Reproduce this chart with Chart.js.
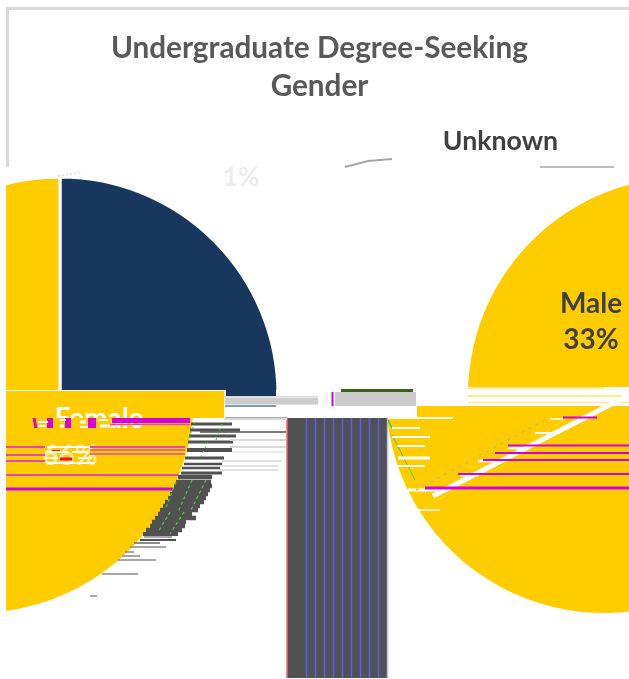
<!DOCTYPE html>
<html><head><meta charset="utf-8">
<script src="https://cdn.jsdelivr.net/npm/chart.js@4"></script>
<style>
html,body{margin:0;padding:0;background:#fff;width:629px;height:679px;overflow:hidden}
#stage{position:relative;width:629px;height:679px;overflow:hidden;background:#fff}
#frame{position:absolute;left:6px;top:7px;width:640px;height:160px;border-left:3px solid #d9d9d9;border-top:3px solid #d9d9d9;box-sizing:border-box}
.band{position:absolute;overflow:hidden}
.band canvas{position:absolute}
#overlay{position:absolute;left:0;top:0}
</style></head><body><div id="stage"><div id="frame"></div></div>
<script>
// ---- chart data ----
const titleLines = ['Undergraduate Degree-Seeking', 'Gender'];
const categories = ['Female', 'Male', 'Unknown'];
const shares = [66, 33, 1];
const quadrantLabels = ['Navy slice', 'Gold slice'];
const quadrantValues = [25, 75];
const NAVY = '#17375e', GOLD = '#ffcc00', INK = '#595959', DARK = '#404040';

const pieLayers = [
  {band:[6,167,300,223], cx:59.5,  cy:395, values:quadrantValues, labels:quadrantLabels, colors:[NAVY,GOLD], border:3},
  {band:[400,167,229,220], cx:686, cy:395, values:shares, labels:categories, colors:[GOLD,GOLD,GOLD], border:0},
  {band:[6,418,290,261], cx:-24, cy:395, values:shares, labels:categories, colors:[GOLD,GOLD,GOLD], border:0},
  {band:[380,418,249,261], cx:604, cy:395, values:shares, labels:categories, colors:[GOLD,GOLD,GOLD], border:0}
];
const R = 218, SIDE = 444;
const stage = document.getElementById('stage');
const common = {responsive:false, animation:false, events:[], layout:{padding:0},
  plugins:{legend:{display:false}, tooltip:{enabled:false}, title:{display:false}}};
pieLayers.forEach(p=>{
  const d = document.createElement('div'); d.className='band';
  const [l,t,w,h] = p.band;
  d.style.cssText = `left:${l}px;top:${t}px;width:${w}px;height:${h}px`;
  const c = document.createElement('canvas'); c.width=SIDE; c.height=SIDE;
  c.style.left=(p.cx-SIDE/2-l)+'px'; c.style.top=(p.cy-SIDE/2-t)+'px';
  d.appendChild(c); stage.appendChild(d);
  new Chart(c,{type:'pie',data:{labels:p.labels,datasets:[{data:p.values,backgroundColor:p.colors,
    borderColor:'#fff',borderWidth:p.border,hoverOffset:0}]},
    options:{...common,radius:R}});
});

// ---- scan-line damage, on a scale of page pixels ----
const styles = {
  block:{c:GOLD}, white:{c:'#fff'}, grey:{c:'#cccccc'}, slate:{c:'#515151'}, hair:{c:'#8a8a8a'}, pale:{c:'#d9d9d9'},
  navy:{c:NAVY}, olive:{c:'#3f5f1f'}, magenta:{c:'#d400e0'}, pink:{c:'#e24ab0'}, blue:{c:'#5a5aff'}, red:{c:'#ee6a6a'}, sky:{c:'#b8b8ff'},
  leader:{c:'#a6a6a6'}, cream:{c:'#ffe98a'}, green:{c:'#4fc83c'}, hot:{c:'#f01030'}, dust:{c:'#cdbb70'}
};
// style, x1, y1, x2, y2, thickness, dash
const segments = [
 // label fragments
 ['white',38,422,48,422,2],['white',38,426,46,426,2],['white',60,420,66,420,2],['white',60,426,64,426,3],['white',80,422,86,422,3],['white',80,427,88,427,2],
 ['white',98,420,108,420,2],['white',100,426,110,426,3],
 ['white',47,447,90,447,2],['white',45,452,68,452,2],['white',72,452,88,452,2],['white',46,458,58,458,2],['white',78,458,92,458,2],['white',46,463,95,463,2],
 ['hot',52,451,60,451,2],['hot',60,459,72,459,3],['hot',66,463,82,463,2],
 // right pie streaks
 ['magenta',425,488,629,488,3],['magenta',458,474,629,474,2],['magenta',483,460,629,460,2],
 ['magenta',495,453,629,453,2],['magenta',508,445.5,629,445.5,2],['magenta',563,417.5,597,417.5,2],
 ['white',433,496,629,395,5],['dust',416,490,545,420,1.5,[3,5]],
 ['white',460,475,478,475,3],['white',478,461,500,461,2.5],['white',508,448,527,448,2.5],
 ['white',535,433,560,433,2],['white',550,419,563,419,1.5],
 ['cream',468,388,605,388,2],['cream',468,396,629,396,2],['cream',468,402.5,629,402.5,1.5],
 ['white',388,418,453,418,2],['white',392,428,420,428,2],['white',392,437,430,437,2],['white',397,446,425,446,2],
 ['white',398,458,430,458,3],['white',398,466,425,466,2],['white',408,490,442,490,3],['white',410,598,445,598,1.5],
 ['white',412,510,440,510,1.5],
 ['green',388,420,392,428,1.5],['green',392,435,415,480,1],
 // left pie streaks
 ['magenta',112,420.5,190,420.5,5],['pink',110,424.5,190,424.5,1.5],
 ['magenta',34,418,36,428,3],['magenta',50,418,50,428,6],['magenta',68,418,68,428,6],['magenta',92,418,92,428,8],
 ['pink',6,447,45,447,2],['pink',90,447,185,447,2],['pink',90,450,185,450,1.5],['pink',90,454,185,454,1.5],
 ['pink',6,455,45,455,2],['pink',6,461,45,461,2],['pink',6,475,178,475,2],['magenta',6,489,172,489,3],
 // green flecks over the dark rows
 ['green',195,422,188,440,1,[2,3]],['green',222,424,216,440,1,[2,3]],['green',208,442,200,458,1,[2,3]],
 ['green',176,482,165,510,1.2,[3,3]],['green',192,480,178,512,1.2,[3,3]],['green',206,480,190,512,1.2,[3,3]],
 ['green',170,512,158,532,1.2,[3,3]],['green',184,512,170,534,1.2,[3,3]],
 // hair rows beside the left pie
 ['pale',225,419,287,419,2],['slate',191,424,232,424,3],['slate',190,430,240,430,3],['slate',200,432,286,432,1.5],
 ['slate',189,436,236,436,3],['pale',230,440,286,440,2],['slate',188,442,233,442,3],['pale',230,447,286,447,2],
 ['slate',187,450,232,450,4],['pale',232,452,284,452,1],['slate',185,458,224,458,3],['pale',222,461,281,461,1.5],
 ['slate',184,464,222,464,2.5],['pale',222,466,279,466,1.5],['slate',182,468,220,468,2.5],['pale',220,470,278,470,1.5],
 ['slate',181,473,222,473,3],['slate',178,477,212,477,4.5],['slate',176,482,211,482,4.5],['slate',174,486,212,486,4.5],
 ['slate',172,490,210,490,4.5],['slate',170,494,208,494,4.5],['slate',168,498,206,498,4.5],['slate',165,502,204,502,4.5],
 ['slate',163,506,200,506,4.5],['slate',160,510,198,510,4.5],['slate',158,514,192,514,4.5],['slate',155,518,196,518,4.5],
 ['slate',152,522,186,522,4.5],['slate',150,526,185,526,4.5],['slate',146,530,182,530,4.5],['slate',143,534,178,534,4],
 ['hair',144,537,172,537,1.5],['slate',140,540,176,540,2],['hair',134,543,160,543,2],['hair',130,547,166,547,1.5],
 ['hair',125,552,134,552,1.5],['hair',122,556,140,556,1.5],['hair',118,560,156,560,1.5],['hair',102,574,138,574,1.5],
 ['hair',90,596,97,596,1.5],
 // grey block with its stripes
 ...[306.5,315.5,324.5,333.5,342.5,351.5,360.5,369.5,378.5].map(x=>['blue',x,418,x,678,1.5]),
 ['red',287,418,287,678,1.5],['sky',387.5,418,387.5,678,1.5],
 ['slate',337,418,337,678,100],
 // fragments around the centre line
 ['navy',226,393,276,393,6],['grey',225,401,318,401,7],['pale',225,396.5,318,396.5,1],['navy',225,406,276,406,1],
 ['olive',341,390.5,413,390.5,3],['grey',335,399,416,399,14],['magenta',332.5,392,332.5,406,2],
 ['hair',225,418,287,418,1.5],
 // leader lines
 ['leader',345,167,368,161,2],['leader',368,161,392,159,2],['leader',540,167,614,167,1.5],
 ['pale',58,176,82,172,1.5,[2,2]],
 // solid gold chunks sit under everything else
 ['block',417,412,629,412,12],['block',6,404.5,224,404.5,27]
];
const textAt = [
 {t:titleLines[0],x:319.5,y:48,font:'bold 29.7px Lato',c:INK},
 {t:titleLines[1],x:319.5,y:86,font:'bold 29.7px Lato',c:INK},
 {t:categories[2],x:500.5,y:141,font:'bold 26.7px Lato',c:DARK},
 {t:categories[1],x:591,y:304,font:'bold 28px Lato',c:DARK},
 {t:shares[1]+'%',x:591,y:340,font:'bold 28px Lato',c:DARK},
 {t:categories[0],x:99,y:419,font:'bold 28px Lato',c:'#fff'},
 {t:shares[2]+'%',x:241,y:178,font:'bold 26px Lato',c:'#ededed'}
];
const datasets = segments.map(s=>({
  data:[{x:s[1],y:s[2]},{x:s[3],y:s[4]}], borderColor:styles[s[0]].c, borderWidth:s[5], borderDash:s[6]||[],
  pointRadius:0, borderCapStyle:'butt', fill:false, tension:0, clip:false
}));
const textPlugin = {id:'texts', afterDatasetDraw(chart,args){
  if(args.index!==datasets.length-2) return;
  const g=chart.ctx; g.save(); g.textAlign='center'; g.textBaseline='middle';
  textAt.forEach(o=>{g.font=o.font; g.fillStyle=o.c; g.fillText(o.t,o.x,o.y);});
  // the Female label is cut off at the scan-line break; its share is only fragments
  g.fillStyle=GOLD; g.fillRect(6,418,105,12);
  g.font='bold 28px Lato'; g.fillStyle='rgba(255,255,255,.55)'; g.fillText(shares[0]+'%',70,456);
  g.restore();
}};
const overlayCanvas = document.createElement('canvas'); overlayCanvas.id='overlay'; overlayCanvas.width=629; overlayCanvas.height=679; stage.appendChild(overlayCanvas);
new Chart(overlayCanvas,{type:'line',data:{datasets},plugins:[textPlugin],options:{...common,
  scales:{x:{type:'linear',min:0,max:629,display:false},y:{type:'linear',min:0,max:679,reverse:true,display:false}}}});
</script></body></html>
